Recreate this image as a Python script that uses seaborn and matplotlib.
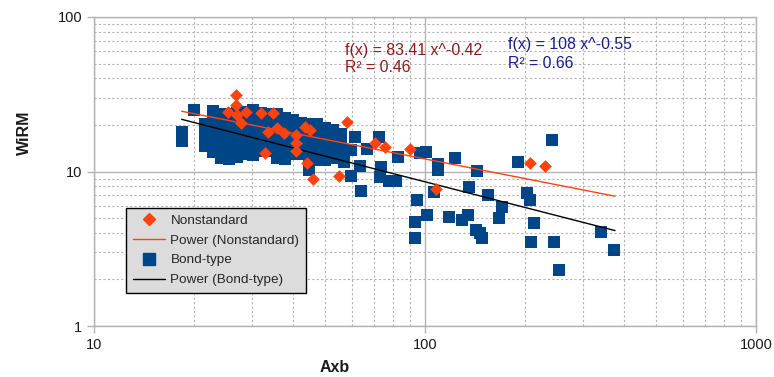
import numpy as np
import pandas as pd
import matplotlib
matplotlib.use("Agg")
import matplotlib.pyplot as plt
import seaborn as sns
from matplotlib.ticker import LogLocator, FixedLocator, NullFormatter
from matplotlib.lines import Line2D

# ---------------- data ----------------
nonstd_x = [26.8, 26.8, 25.4, 27.0, 28.7, 27.8, 31.9, 34.7, 33.5, 35.6, 37.4, 40.7,
            40.7, 40.7, 32.8, 43.3, 44.8, 43.9, 45.8, 54.8, 58.0, 70.4, 75.5, 89.8,
            108.3, 208.0, 231.0]
nonstd_y = [31.3, 26.9, 24.3, 23.2, 24.3, 20.6, 23.9, 23.9, 18.0, 19.1, 17.8, 17.2,
            15.3, 13.6, 13.2, 19.4, 18.6, 11.4, 8.94, 9.35, 20.9, 15.3, 14.4, 14.0,
            7.70, 11.4, 10.8]

bond_x = [
    18.4, 18.4, 20.0, 22.9,
    21.6, 21.6, 21.6, 21.6,
    22.9, 22.9, 22.9, 22.9, 22.9,
    24.2, 24.2, 24.2, 24.2, 24.2, 24.2, 24.2,
    25.5, 25.5, 25.5, 25.5, 25.5, 25.5, 25.5,
    27.0, 27.0, 27.0, 27.0, 27.0, 27.0, 27.0,
    28.5, 28.5, 28.5, 28.5, 28.5, 28.5, 28.5,
    30.2, 30.2, 30.2, 30.2, 30.2, 30.2,
    31.9, 31.9, 31.9, 31.9, 31.9, 31.9,
    33.7, 33.7, 33.7, 33.7, 33.7, 33.7,
    35.6, 35.6, 35.6, 35.6, 35.6, 35.6,
    37.7, 37.7, 37.7, 37.7, 37.7, 37.7,
    39.9, 39.9, 39.9, 39.9, 39.9, 39.9,
    42.1, 42.1, 42.1, 42.1, 42.1,
    44.5, 44.5, 44.5, 44.5, 44.5,
    47.1, 47.1, 47.1, 47.1, 47.1,
    49.8, 49.8, 49.8, 49.8, 49.8,
    52.6, 52.6, 52.6, 52.6, 52.6,
    55.6, 55.6, 55.6, 55.6,
    44.5, 56.8,
    61.3, 59.6, 66.6, 72.4, 63.5, 59.6, 73.4, 72.9, 78.1, 82.0, 82.6, 63.9,
    96.3, 101.0, 109.8, 109.8, 106.8, 94.9, 101.7, 93.0, 93.0, 117.8, 123.6,
    144.0, 136.2, 155.5, 171.3, 167.8, 134.4, 129.8, 143.0, 147.1, 149.1,
    191.5, 242.4, 203.8, 208.1, 213.9, 209.6, 245.8, 254.5, 340.7, 372.9]
bond_y = [
    18.0, 15.8, 25.0, 24.6,
    20.3, 18.0, 16.0, 14.6,
    21.5, 19.1, 17.0, 15.1, 13.4,
    23.6, 20.9, 18.6, 16.5, 14.6, 13.0, 12.2,
    23.6, 20.9, 18.6, 16.5, 14.6, 13.0, 12.0,
    23.9, 21.2, 18.8, 16.7, 14.8, 13.2, 12.4,
    24.3, 21.5, 19.1, 17.0, 15.1, 13.4, 12.9,
    25.0, 21.5, 19.1, 17.0, 15.1, 12.8,
    23.9, 21.2, 18.8, 16.7, 14.8, 13.6,
    23.6, 20.9, 18.6, 16.5, 14.6, 13.5,
    23.5, 20.3, 18.0, 16.0, 14.2, 12.2,
    22.2, 19.7, 17.5, 15.5, 13.8, 12.0,
    21.5, 19.1, 17.0, 15.1, 13.4, 12.9,
    20.6, 18.8, 16.7, 14.8, 12.9,
    20.3, 18.0, 16.0, 14.2, 12.6,
    20.2, 17.5, 15.5, 13.8, 11.8,
    19.1, 17.0, 15.1, 13.4, 11.9,
    18.6, 16.5, 14.6, 13.0, 12.3,
    17.5, 15.5, 13.8, 12.4,
    10.2, 11.5,
    16.7, 13.8, 14.0, 16.7, 10.9, 9.35, 10.7, 9.21, 8.68, 8.68, 12.4, 7.48,
    13.2, 13.4, 11.2, 10.2, 7.37, 6.54, 5.23, 4.71, 3.71, 5.08, 12.2,
    10.1, 7.94, 7.05, 5.89, 5.00, 5.23, 4.86, 4.18, 4.00, 3.71,
    11.5, 16.0, 7.26, 6.54, 4.64, 3.50, 3.50, 2.30, 4.06, 3.10]

# trendline coefficients (as printed on the chart)
fit_nonstd = (83.41, -0.42)
fit_bond = (108.0, -0.55)
fit_range = (18.4, 375.0)

eq_nonstd = ["f(x) = 83.41 x^-0.42", "R² = 0.46"]
eq_bond = ["f(x) = 108 x^-0.55", "R² = 0.66"]

x_ticks = [10, 100, 1000]
y_ticks = [1, 10, 100]

# ---------------- style ----------------
ORANGE = "#ff420e"
BLUE = "#004586"
GRID = "#b3b3b3"

sns.set_style("white")
plt.rcParams["font.family"] = ["Liberation Sans", "DejaVu Sans"]

fig = plt.figure(figsize=(7.74, 3.77), dpi=100)
ax = fig.add_axes([94 / 774, 51 / 377, 662 / 774, 309 / 377])

ax.set_xscale("log")
ax.set_yscale("log")
ax.set_xlim(10, 1000)
ax.set_ylim(1, 100)

ax.xaxis.set_major_locator(FixedLocator(x_ticks))
ax.yaxis.set_major_locator(FixedLocator(y_ticks))
ax.set_xticklabels([str(v) for v in x_ticks])
ax.set_yticklabels([str(v) for v in y_ticks])
ax.xaxis.set_minor_locator(LogLocator(base=10, subs=np.arange(2, 10)))
ax.yaxis.set_minor_locator(LogLocator(base=10, subs=np.arange(2, 10)))
ax.xaxis.set_minor_formatter(NullFormatter())
ax.yaxis.set_minor_formatter(NullFormatter())

ax.grid(True, which="major", color=GRID, linewidth=1.0, linestyle="-")
ax.grid(True, which="minor", color=GRID, linewidth=0.8, linestyle=(0, (2, 2)))
ax.set_axisbelow(True)
ax.tick_params(which="major", length=5, width=1, color=GRID, labelsize=10.5,
               labelcolor="#1a1a1a", direction="out", left=True, bottom=True)
ax.tick_params(which="minor", length=0)
for s in ax.spines.values():
    s.set_color(GRID)
    s.set_linewidth(1.0)

bond_df = pd.DataFrame({"Axb": bond_x, "WiRM": bond_y})
non_df = pd.DataFrame({"Axb": nonstd_x, "WiRM": nonstd_y})

sns.scatterplot(data=bond_df, x="Axb", y="WiRM", marker="s", s=70, color=BLUE,
                linewidth=0, ax=ax, zorder=3, legend=False)

xl = np.geomspace(fit_range[0], fit_range[1], 100)
trend_df = pd.DataFrame({
    "x": xl,
    "ns": fit_nonstd[0] * xl ** fit_nonstd[1],
    "bt": fit_bond[0] * xl ** fit_bond[1],
})
sns.lineplot(data=trend_df, x="x", y="ns", color=ORANGE, linewidth=1.0, ax=ax, zorder=4)
sns.lineplot(data=trend_df, x="x", y="bt", color="black", linewidth=1.0, ax=ax, zorder=4)

sns.scatterplot(data=non_df, x="Axb", y="WiRM", marker="D", s=42, color=ORANGE,
                linewidth=0, ax=ax, zorder=5, legend=False)

ax.set_xlabel("")
ax.set_ylabel("")
fig.text(335 / 774, 1 - 368 / 377, "Axb", ha="center", va="center",
         fontsize=11.5, fontweight="bold", color="#1a1a1a")
fig.text(24 / 774, 1 - 133 / 377, "WiRM", ha="center", va="center", rotation=90,
         fontsize=11.5, fontweight="bold", color="#1a1a1a")

# equations
fig.text(345 / 774, 1 - 50 / 377, eq_nonstd[0], ha="left", va="center",
         fontsize=11.4, color="#8b1a1a")
fig.text(345 / 774, 1 - 67 / 377, eq_nonstd[1], ha="left", va="center",
         fontsize=11.4, color="#8b1a1a")
fig.text(508 / 774, 1 - 45 / 377, eq_bond[0], ha="left", va="center",
         fontsize=11.4, color="#1c1c8c")
fig.text(508 / 774, 1 - 63 / 377, eq_bond[1], ha="left", va="center",
         fontsize=11.4, color="#1c1c8c")

handles = [
    Line2D([], [], marker="D", color=ORANGE, linestyle="none", markersize=6.5),
    Line2D([], [], color=ORANGE, linewidth=1.0),
    Line2D([], [], marker="s", color=BLUE, linestyle="none", markersize=8),
    Line2D([], [], color="black", linewidth=1.0),
]
labels = ["Nonstandard", "Power (Nonstandard)", "Bond-type", "Power (Bond-type)"]
leg = ax.legend(handles, labels, loc="lower left",
                bbox_to_anchor=((126 - 94) / 662, (326 - 293) / 309),
                borderaxespad=0, fontsize=9.7, frameon=True, fancybox=False,
                framealpha=1, facecolor="#dcdcdc", edgecolor="black",
                handlelength=2.4, labelspacing=0.55, borderpad=0.5,
                handletextpad=0.4)
leg.get_frame().set_linewidth(1.0)
leg.set_zorder(10)

fig.savefig("out.png", dpi=100)
